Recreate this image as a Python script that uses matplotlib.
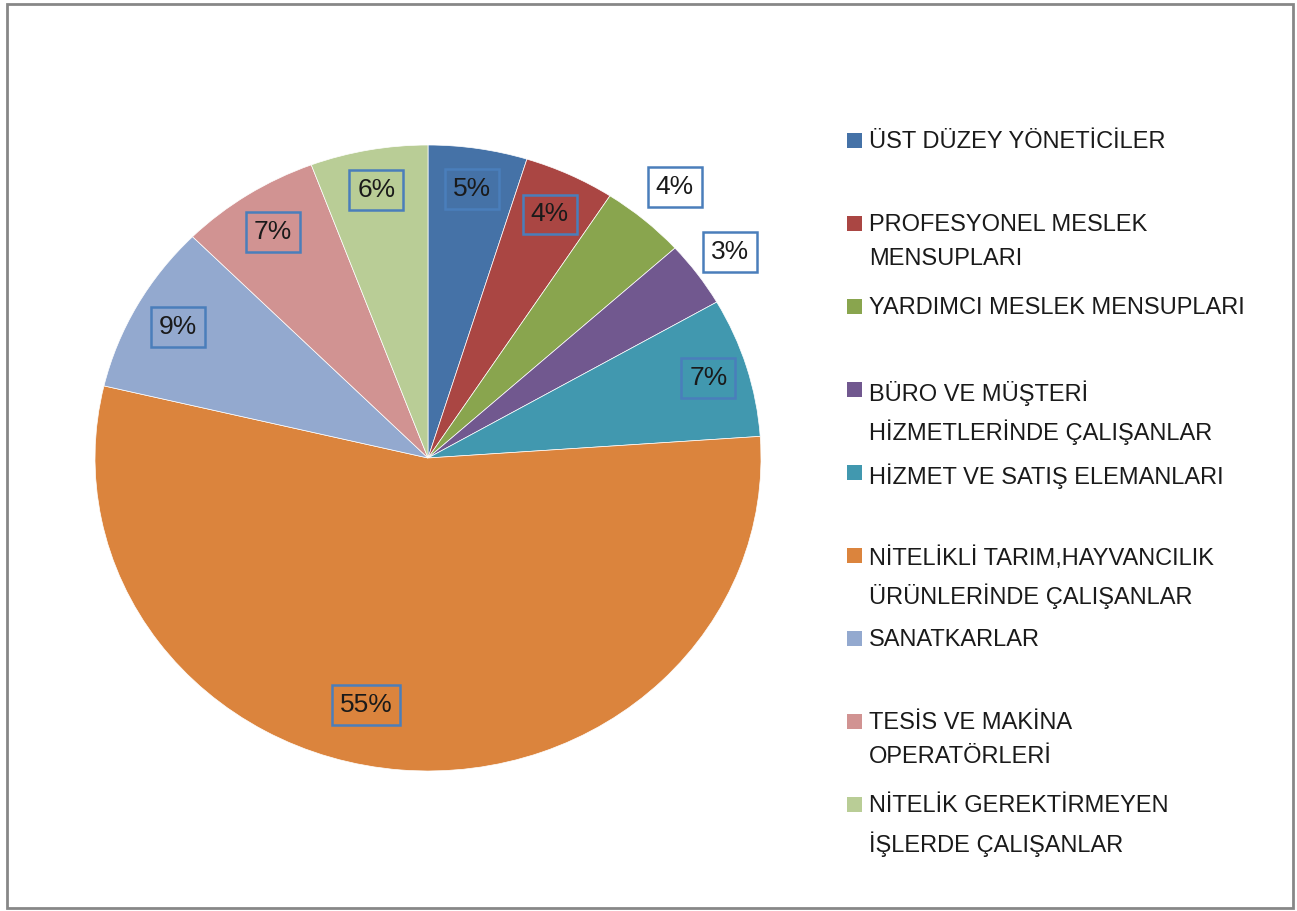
import numpy as np
import matplotlib
matplotlib.use('Agg')
import matplotlib.pyplot as plt
from matplotlib.patches import Rectangle

plt.rcParams['font.family'] = ['Liberation Sans', 'DejaVu Sans']

# Data (shares in %)
categories = ['ÜST DÜZEY YÖNETİCİLER',
              'PROFESYONEL MESLEK\nMENSUPLARI',
              'YARDIMCI MESLEK MENSUPLARI',
              'BÜRO VE MÜŞTERİ\nHİZMETLERİNDE ÇALIŞANLAR',
              'HİZMET VE SATIŞ ELEMANLARI',
              'NİTELİKLİ TARIM,HAYVANCILIK\nÜRÜNLERİNDE ÇALIŞANLAR',
              'SANATKARLAR',
              'TESİS VE MAKİNA\nOPERATÖRLERİ',
              'NİTELİK GEREKTİRMEYEN\nİŞLERDE ÇALIŞANLAR']
values = [4.8, 4.4, 4.1, 3.4, 7.2, 54.8, 8.8, 6.8, 5.7]
colors = ['#4572A7', '#AA4643', '#89A54E', '#71588F', '#4198AF',
          '#DB843D', '#93A9CF', '#D19392', '#B9CD96']

# label placement (radius, angle nudge in degrees, white box?)
label_r = [0.87, 0.86, 1.14, 1.12, 0.88, 0.81, 0.86, 0.86, 0.87]
label_nudge = [0, 0, 0, 0, 0, -8.6, 0, 0, 0]
label_outside = [False, False, True, True, False, False, False, False, False]

W, H = 1297, 911
fig = plt.figure(figsize=(W / 100, H / 100), dpi=100)
fig.patch.set_facecolor('white')

# pie axes (slightly wider than tall, like the original)
ax = fig.add_axes([95 / W, (H - 771) / H, 666 / W, 626 / H])
wedges, _ = ax.pie(values, colors=colors, startangle=90, counterclock=False,
                   radius=1, wedgeprops=dict(edgecolor='white', linewidth=0.5))
ax.set_aspect('auto')
ax.set_xlim(-1, 1)
ax.set_ylim(-1, 1)
ax.axis('off')

for w, r, nd, out in zip(wedges, label_r, label_nudge, label_outside):
    pct = abs(w.theta2 - w.theta1) / 360 * 100
    mid = np.deg2rad((w.theta1 + w.theta2) / 2 + nd)
    ax.text(r * np.cos(mid), r * np.sin(mid), '%d%%' % round(pct),
            ha='center', va='center', fontsize=19, color='#1a1a1a',
            bbox=dict(boxstyle='square,pad=0.3',
                      fc='white' if out else 'none',
                      ec='#4A7EBB', lw=1.8))

# legend drawn by hand so the marker sits on the first line
for i, (lab, c) in enumerate(zip(categories, colors)):
    y = 140 + 83 * i
    fig.patches.append(Rectangle((847 / W, (H - y - 7.5) / H), 15 / W, 15 / H,
                                 transform=fig.transFigure, fc=c, ec='none'))
    fig.text(869 / W, (H - y + 9) / H, lab, ha='left', va='top',
             fontsize=17, color='#1a1a1a', linespacing=1.68)

# outer chart frame
fig.patches.append(Rectangle((7 / W, (H - 908) / H), 1286 / W, 904 / H,
                             transform=fig.transFigure, fill=False,
                             ec='#878787', lw=2))

fig.savefig('out.png', dpi=100)
